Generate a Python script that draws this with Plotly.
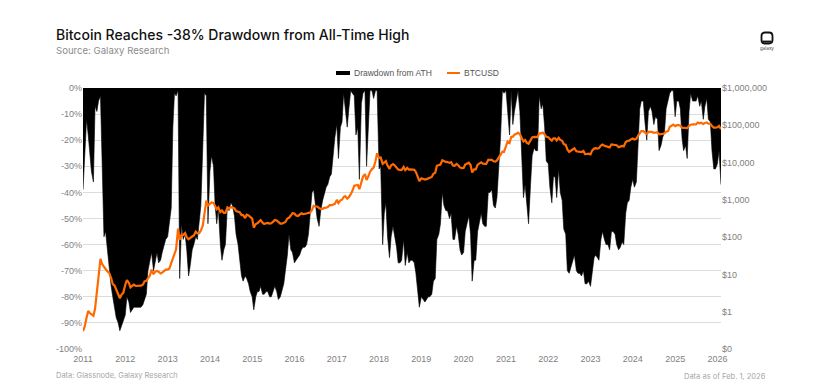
import plotly.graph_objects as go

# ---------------- data (semi-monthly samples) ----------------
half_month_days = ["01-01", "01-15", "02-01", "02-15", "03-01", "03-15",
                   "04-01", "04-15", "05-01", "05-15", "06-01", "06-15",
                   "07-01", "07-15", "08-01", "08-15", "09-01", "09-15",
                   "10-01", "10-15", "11-01", "11-15", "12-01", "12-15"]
years = list(range(2011, 2026))
tail_dates = ["2026-01-01", "2026-01-15", "2026-02-01"]

# Drawdown from all-time high (%)
dd_2011 = [-39, -28, -12, -18, -24, -32, -36, -7, -9, -5, -3, -35, -57, -55, -62, -70, -76, -80, -84, -88, -90, -93, -91, -89]
dd_2012 = [-87, -80, -82, -86, -85, -84, -84, -84, -84, -84, -83, -81, -79, -70, -66, -63, -70, -66, -63, -67, -66, -63, -60, -58]
dd_2013 = [-57, -52, -46, -15, -2, -3, -1, -73, -52, -58, -56, -62, -72, -68, -62, -60, -57, -58, -52, -45, -22, -2, -3, -52]
dd_2014 = [-32, -26, -30, -45, -52, -46, -60, -66, -62, -60, -45, -47, -44, -45, -49, -56, -60, -66, -72, -74, -72, -73, -75, -78]
dd_2015 = [-80, -85, -80, -78, -78, -76, -79, -79, -78, -78, -80, -80, -78, -76, -78, -81, -80, -78, -75, -70, -64, -56, -62, -63]
dd_2016 = [-67, -66, -65, -64, -62, -61, -61, -60, -56, -48, -40, -39, -46, -50, -53, -47, -43, -40, -38, -37, -34, -33, -25, -19]
dd_2017 = [-14, -27, -15, -13, -2, -8, -15, -8, -1, -2, -3, -18, -15, -35, -6, -2, -1, -30, -12, -1, -1, -4, -1, -1]
dd_2018 = [-31, -30, -60, -48, -44, -57, -65, -57, -53, -56, -61, -67, -67, -66, -58, -68, -63, -67, -66, -66, -67, -71, -79, -84]
dd_2019 = [-80, -81, -82, -81, -80, -80, -79, -74, -73, -58, -56, -52, -40, -45, -47, -47, -50, -48, -58, -58, -53, -56, -62, -64]
dd_2020 = [-63, -55, -52, -49, -56, -74, -66, -66, -55, -52, -48, -52, -53, -53, -40, -40, -39, -45, -46, -42, -30, -19, -1, -2]
dd_2021 = [-1, -10, -18, -1, -14, -9, -4, -1, -9, -26, -42, -37, -47, -52, -37, -26, -23, -24, -24, -3, -8, -6, -15, -28]
dd_2022 = [-29, -38, -44, -34, -34, -42, -31, -40, -43, -54, -56, -70, -71, -69, -66, -64, -70, -71, -71, -72, -70, -75, -75, -74]
dd_2023 = [-76, -70, -65, -64, -65, -66, -58, -55, -58, -60, -60, -62, -55, -55, -56, -60, -62, -61, -59, -60, -48, -44, -43, -38]
dd_2024 = [-35, -38, -36, -23, -8, -5, -5, -13, -20, -9, -7, -9, -14, -11, -12, -24, -22, -19, -17, -8, -5, -2, -1, -1]
dd_2025 = [-11, -5, -5, -8, -19, -24, -22, -27, -9, -2, -5, -5, -5, -3, -7, -5, -12, -7, -4, -12, -13, -24, -31, -31]
dd_2026 = [-29, -24, -37]

# BTCUSD price ($)
btc_2011 = [0.30, 0.39, 0.70, 1.05, 0.92, 0.87, 0.78, 1.2, 3.4, 7.5, 26, 19, 15.5, 14, 12, 11, 8, 5.5, 5.0, 3.9, 3.2, 2.3, 2.9, 3.2]
btc_2012 = [5.3, 7.0, 6.0, 4.5, 4.9, 5.3, 4.9, 4.9, 5.0, 5.0, 5.3, 6.5, 6.7, 7.6, 9.4, 13.5, 10.1, 11.8, 12.4, 11.8, 10.6, 11.2, 12.5, 13.4]
btc_2013 = [13.5, 14.2, 20, 27, 34, 47, 170, 85, 116, 114, 129, 100, 88, 97, 104, 111, 140, 127, 128, 150, 205, 420, 950, 700]
btc_2014 = [770, 850, 830, 650, 560, 630, 470, 520, 450, 450, 630, 590, 640, 620, 590, 500, 480, 470, 390, 390, 325, 400, 380, 350]
btc_2015 = [315, 180, 225, 235, 255, 285, 245, 225, 235, 240, 230, 235, 260, 290, 280, 260, 230, 230, 237, 255, 315, 330, 380, 440]
btc_2016 = [430, 380, 370, 400, 435, 415, 415, 430, 450, 455, 535, 690, 675, 665, 605, 570, 575, 610, 615, 640, 730, 710, 750, 780]
btc_2017 = [1000, 820, 970, 1010, 1190, 1250, 1080, 1180, 1420, 1720, 2400, 2450, 2500, 1930, 2740, 4200, 4900, 3400, 4300, 5700, 6700, 7300, 10900, 17700]
btc_2018 = [13400, 13600, 9200, 10200, 10900, 8300, 6800, 8400, 9100, 8500, 7500, 6500, 6400, 6300, 7600, 6300, 7200, 6500, 6600, 6600, 6400, 5600, 4100, 3200]
btc_2019 = [3800, 3600, 3500, 3600, 3800, 3900, 4100, 5000, 5300, 8200, 8600, 8800, 11500, 10900, 10400, 10300, 9800, 10300, 8300, 8200, 9200, 8500, 7400, 7100]
btc_2020 = [7200, 8800, 9400, 9900, 8600, 5400, 6600, 6600, 8800, 9300, 10200, 9400, 9200, 9200, 11800, 11800, 11900, 10800, 10600, 11400, 13700, 15900, 19600, 19400]
btc_2021 = [29400, 36800, 33500, 48700, 49600, 55900, 59000, 63200, 57800, 46800, 36700, 40200, 33600, 31800, 39900, 47100, 48800, 48100, 48200, 61500, 61000, 63600, 57200, 48900]
btc_2022 = [47700, 43100, 38700, 44500, 44400, 39300, 46300, 40500, 38500, 31300, 29800, 22600, 19300, 20800, 23300, 24100, 20100, 19700, 19300, 19200, 20500, 16900, 17000, 17400]
btc_2023 = [16600, 20900, 23700, 24300, 23600, 24400, 28500, 30300, 28100, 27200, 26800, 25600, 30600, 30300, 29700, 29200, 25900, 26600, 27900, 27200, 35400, 37900, 38700, 41900]
btc_2024 = [44200, 41700, 43100, 51900, 62400, 69400, 69700, 63400, 58300, 66200, 67800, 66200, 62900, 64800, 65300, 57600, 57300, 59100, 60800, 67000, 69500, 91000, 97200, 104000]
btc_2025 = [94400, 100500, 100600, 97500, 86100, 84300, 85200, 83700, 96500, 103700, 105700, 105600, 105700, 117800, 113200, 117400, 109200, 115400, 118600, 110700, 110100, 95500, 86300, 86400]
btc_2026 = [88700, 96500, 78600]

pct_ticks = [0, -10, -20, -30, -40, -50, -60, -70, -80, -90, -100]
price_ticks = [0.1, 1, 10, 100, 1000, 10000, 100000, 1000000]
price_tick_labels = ["$0", "$1", "$10", "$100", "$1,000", "$10,000", "$100,000", "$1,000,000"]
year_ticks = [f"{y}-01-01" for y in range(2011, 2027)]

# ---------------- assemble ----------------
dates = [f"{y}-{md}" for y in years for md in half_month_days] + tail_dates
dd_values = (dd_2011 + dd_2012 + dd_2013 + dd_2014 + dd_2015 + dd_2016 + dd_2017 + dd_2018 +
             dd_2019 + dd_2020 + dd_2021 + dd_2022 + dd_2023 + dd_2024 + dd_2025 + dd_2026)
btc_values = (btc_2011 + btc_2012 + btc_2013 + btc_2014 + btc_2015 + btc_2016 + btc_2017 + btc_2018 +
              btc_2019 + btc_2020 + btc_2021 + btc_2022 + btc_2023 + btc_2024 + btc_2025 + btc_2026)

W, H = 827, 382
L, R, T, B = 83, 721, 88, 349
def px(x):
    return (x - L) / (R - L)
def py(y):
    return (B - y) / (B - T)

GREY = "#7f7f7f"
TICKFONT = dict(family="Liberation Sans, Arial, sans-serif", size=9, color=GREY)
ORANGE = "#ff6a00"

fig = go.Figure()
fig.add_trace(go.Scatter(
    x=dates, y=dd_values, name="Drawdown from ATH", mode="lines",
    line=dict(color="#000000", width=0.6), fill="tozeroy", fillcolor="#000000",
    showlegend=False, yaxis="y"))
fig.add_trace(go.Scatter(
    x=dates, y=btc_values, name="BTCUSD", mode="lines",
    line=dict(color=ORANGE, width=2.2), showlegend=False, yaxis="y2"))

fig.update_layout(
    width=W, height=H,
    margin=dict(l=L, r=W - R, t=T, b=H - B),
    paper_bgcolor="white", plot_bgcolor="white",
    showlegend=False,
    xaxis=dict(type="date", range=["2011-01-01", "2026-02-01"],
               tickvals=year_ticks, tickformat="%Y", showgrid=False,
               zeroline=False, showline=False, ticks="", tickfont=TICKFONT,
               ticklabelstandoff=3),
    yaxis=dict(range=[-100, 0], tickvals=pct_ticks,
               ticktext=[f"{v}%" for v in pct_ticks],
               showgrid=True, gridcolor="#dcdcdc", gridwidth=1,
               zeroline=False, showline=False, ticks="", tickfont=TICKFONT),
    yaxis2=dict(type="log", range=[-1, 6], overlaying="y", side="right",
                tickvals=price_ticks, ticktext=price_tick_labels,
                showgrid=False, zeroline=False, showline=False, ticks="",
                tickfont=TICKFONT),
)

annotations = [
    dict(text="Bitcoin Reaches -38% Drawdown from All-Time High", x=px(54), y=py(34),
         xanchor="left", yanchor="middle",
         font=dict(family="Inter, sans-serif", size=14, color="#111111", weight=500)),
    dict(text="Source: Galaxy Research", x=px(54), y=py(50),
         xanchor="left", yanchor="middle",
         font=dict(family="Inter, sans-serif", size=9.6, color="#8c8c8c")),
    dict(text="Drawdown from ATH", x=px(352), y=py(73), xanchor="left", yanchor="middle",
         font=dict(family="Liberation Sans, Arial, sans-serif", size=8.5, color="#555555")),
    dict(text="BTCUSD", x=px(462), y=py(73), xanchor="left", yanchor="middle",
         font=dict(family="Liberation Sans, Arial, sans-serif", size=8.5, color="#555555")),
    dict(text="Data: Glassnode, Galaxy Research", x=px(54), y=py(375),
         xanchor="left", yanchor="middle",
         font=dict(family="Inter, sans-serif", size=7.5, color="#a6a6a6")),
    dict(text="Data as of Feb. 1, 2026", x=px(768), y=py(376),
         xanchor="right", yanchor="middle",
         font=dict(family="Inter, sans-serif", size=7.5, color="#a6a6a6")),
    dict(text="galaxy", x=px(767), y=py(48), xanchor="center", yanchor="middle",
         font=dict(family="Inter, sans-serif", size=4.5, color="#444444")),
]
for a in annotations:
    a.update(xref="paper", yref="paper", showarrow=False)
fig.update_layout(annotations=annotations)

shapes = [
    # legend swatches
    dict(type="rect", xref="paper", yref="paper", x0=px(336), x1=px(350),
         y0=py(75), y1=py(71), fillcolor="#000000", line=dict(width=0)),
    dict(type="line", xref="paper", yref="paper", x0=px(447), x1=px(460),
         y0=py(73), y1=py(73), line=dict(color=ORANGE, width=2)),
    # logo
    dict(type="path", xref="paper", yref="paper", xsizemode="pixel", ysizemode="pixel",
         xanchor=px(767), yanchor=py(38),
         path="M -5.5,-2 L -5.5,2 Q -5.5,5.5 -2,5.5 L 2,5.5 Q 5.5,5.5 5.5,2 "
              "L 5.5,-2 Q 5.5,-5.5 2,-5.5 L -2,-5.5 Q -5.5,-5.5 -5.5,-2 Z",
         line=dict(color="#111111", width=1.8)),
    dict(type="path", xref="paper", yref="paper", xsizemode="pixel", ysizemode="pixel",
         xanchor=px(767), yanchor=py(38),
         path="M -4.5,-3.6 L 4.5,-3.6", line=dict(color="#111111", width=2)),
]
fig.update_layout(shapes=shapes)

fig.write_html("out.html",
               config={"displayModeBar": False, "staticPlot": True},
               post_script="document.body.style.margin='0px';"
                           "document.body.style.overflow='hidden';")
